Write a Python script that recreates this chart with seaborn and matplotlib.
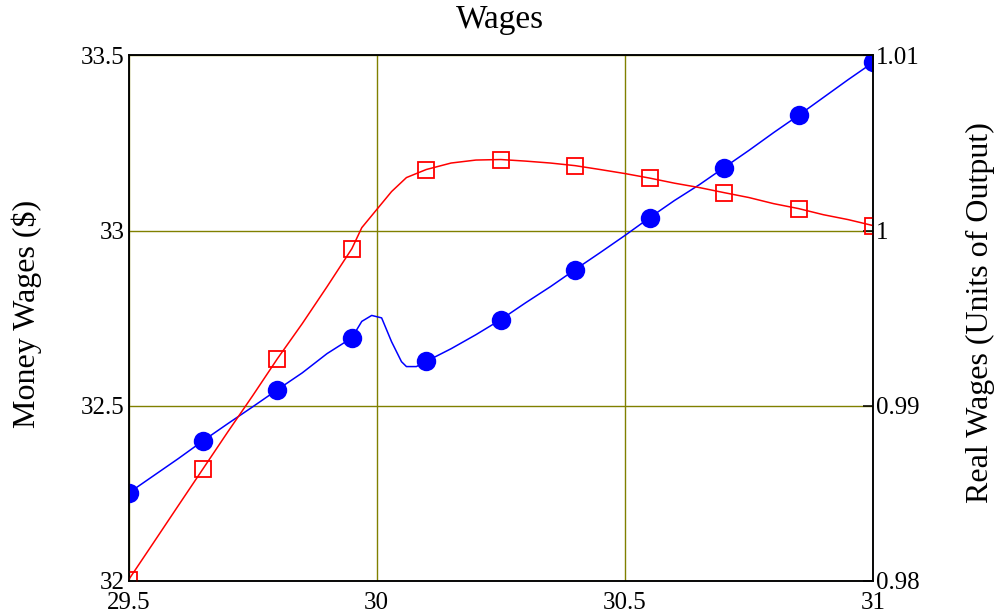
import numpy as np
import pandas as pd
import seaborn as sns
import matplotlib.pyplot as plt

# values
money_x = [29.5, 29.55, 29.6, 29.65, 29.7, 29.75, 29.8, 29.85, 29.9, 29.95,
           29.97, 29.99, 30.01, 30.03, 30.05, 30.06, 30.08, 30.1, 30.15, 30.2,
           30.25, 30.3, 30.35, 30.4, 30.45, 30.5, 30.55, 30.6, 30.65, 30.7,
           30.75, 30.8, 30.85, 30.9, 30.95, 31.0]
money_y = [32.251, 32.300, 32.349, 32.400, 32.449, 32.497, 32.546, 32.594, 32.649, 32.694,
           32.741, 32.758, 32.751, 32.683, 32.626, 32.612, 32.612, 32.627, 32.663, 32.703,
           32.746, 32.794, 32.840, 32.889, 32.937, 32.986, 33.037, 33.086, 33.131, 33.180,
           33.229, 33.280, 33.329, 33.380, 33.431, 33.480]

real_x = [29.5, 29.55, 29.6, 29.65, 29.7, 29.75, 29.8, 29.85, 29.9, 29.95,
          29.97, 30.0, 30.03, 30.06, 30.1, 30.15, 30.2, 30.25, 30.3, 30.35,
          30.4, 30.45, 30.5, 30.55, 30.6, 30.65, 30.7, 30.75, 30.8, 30.85,
          30.9, 30.95, 31.0]
real_y = [0.98006, 0.98217, 0.98429, 0.98640, 0.98851, 0.99057, 0.99269, 0.99469, 0.99680, 0.99897,
          1.00017, 1.00120, 1.00223, 1.00303, 1.00349, 1.00386, 1.00403, 1.00406, 1.00397, 1.00386,
          1.00371, 1.00349, 1.00326, 1.00300, 1.00271, 1.00246, 1.00217, 1.00189, 1.00154, 1.00126,
          1.00091, 1.00063, 1.00029]

mark_x = [29.5, 29.65, 29.8, 29.95, 30.1, 30.25, 30.4, 30.55, 30.7, 30.85, 31.0]
money_marks = [32.251, 32.400, 32.546, 32.694, 32.627, 32.746, 32.889, 33.037, 33.180, 33.329, 33.480]
real_marks = [0.98006, 0.98640, 0.99269, 0.99897, 1.00349, 1.00406, 1.00371, 1.00300, 1.00217, 1.00126, 1.00029]

x_ticks = [29.5, 30, 30.5, 31]
x_labels = ["29.5", "30", "30.5", "31"]
money_ticks = [32, 32.5, 33, 33.5]
money_labels = ["32", "32.5", "33", "33.5"]
real_ticks = [0.98, 0.99, 1.0, 1.01]
real_labels = ["0.98", "0.99", "1", "1.01"]

sns.set_style("white")
plt.rcParams['font.family'] = ['Liberation Serif', 'DejaVu Serif']
plt.rcParams['text.color'] = 'black'
plt.rcParams['xtick.color'] = 'black'
plt.rcParams['ytick.color'] = 'black'

fig = plt.figure(figsize=(9.97, 6.15), dpi=100)
ax = fig.add_axes([0.1289, 0.0553, 0.7467, 0.8545])
ax2 = ax.twinx()

# money wages (left axis)
sns.lineplot(x=money_x, y=money_y, ax=ax, color="blue", lw=1.1)
sns.lineplot(x=mark_x, y=money_marks, ax=ax, color="blue", ls="", marker="o",
             ms=14, mec="blue", mew=0)

# real wages (right axis)
sns.lineplot(x=real_x, y=real_y, ax=ax2, color="red", lw=1.1)
sns.lineplot(x=mark_x, y=real_marks, ax=ax2, color="red", ls="", marker="s",
             ms=11, mfc="none", mec="red", mew=1.3)

ax.set_xlim(29.5, 31)
ax.set_ylim(32, 33.5)
ax2.set_ylim(0.98, 1.01)

ax.set_xticks(x_ticks)
ax.set_xticklabels(x_labels)
ax.set_yticks(money_ticks)
ax.set_yticklabels(money_labels)
ax2.set_yticks(real_ticks)
ax2.set_yticklabels(real_labels)

ax.grid(True, color="#808000", lw=1.0)
ax.set_axisbelow(True)
ax.tick_params(axis="both", length=0, labelsize=18, pad=3, labelcolor="black")
ax.tick_params(axis="x", pad=8)
ax2.tick_params(axis="y", direction="in", length=7, width=1.1, color="black",
                labelsize=18, pad=2, labelcolor="black")

for a in (ax, ax2):
    for sp in a.spines.values():
        sp.set_color("black")
        sp.set_linewidth(1.1)
ax.set_xlabel("")
ax.set_ylabel("")
ax2.set_ylabel("")

fig.text(0.5016, 1 - 28 / 615, "Wages", ha="center", va="baseline", fontsize=24)
fig.text(0.027, 0.49, "Money Wages ($)", rotation=90, ha="center", va="center", fontsize=23)
fig.text(0.983, 0.492, "Real Wages (Units of Output)", rotation=90, ha="center",
         va="center", fontsize=23)

fig.savefig("out.png", dpi=100)
